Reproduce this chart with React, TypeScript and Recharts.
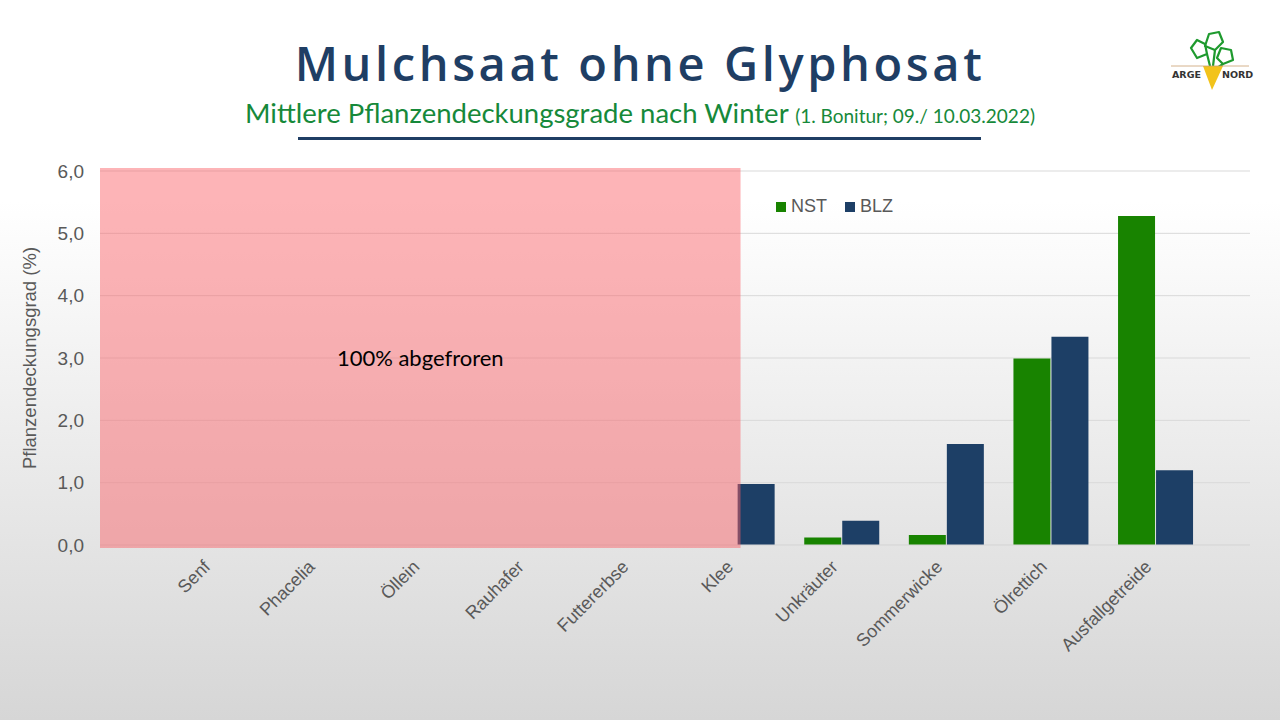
import React from 'react';
import { BarChart, Bar, XAxis, YAxis, CartesianGrid, Legend, ReferenceArea } from 'recharts';

// Kulturen (x-Achse)
const categories = [
  'Senf',
  'Phacelia',
  'Öllein',
  'Rauhafer',
  'Futtererbse',
  'Klee',
  'Unkräuter',
  'Sommerwicke',
  'Ölrettich',
  'Ausfallgetreide',
];

// mittlere Deckungsgrade (%) – erste fünf: 100% abgefroren
const nstValues = [null, null, null, null, null, 0, 0.12, 0.16, 2.99, 5.28];
const blzValues = [null, null, null, null, null, 0.98, 0.39, 1.62, 3.34, 1.2];

const seriesOrder = ['NST', 'BLZ'];
const yTicks = [0, 1, 2, 3, 4, 5, 6];

const data = categories.map((name, i) => ({ name, NST: nstValues[i], BLZ: blzValues[i] }));

const GREEN = '#188300';
const BLUE = '#1D3F66';
const GREY = '#595959';

const XTick = (props: any) => {
  const { x, y, payload } = props;
  return (
    <g transform={`translate(${x - 3},${y + 15})`}>
      <text
        textAnchor="end"
        transform="rotate(-45)"
        fill={GREY}
        fontSize={18}
        fontFamily="Liberation Sans, Arial, sans-serif"
      >
        {payload.value}
      </text>
    </g>
  );
};

const renderLegend = (props: any) => {
  const items = [...(props.payload || [])].sort(
    (a: any, b: any) => seriesOrder.indexOf(a.value) - seriesOrder.indexOf(b.value)
  );
  return (
    <div style={{ display: 'flex', fontFamily: 'Liberation Sans, Arial, sans-serif', fontSize: 18, color: GREY }}>
      {items.map((it: any) => (
        <div key={it.value} style={{ display: 'flex', alignItems: 'center', marginRight: 18 }}>
          <span style={{ width: 10, height: 10, background: it.color, display: 'inline-block', marginRight: 5 }} />
          <span>{it.value}</span>
        </div>
      ))}
    </div>
  );
};

const Logo = () => (
  <svg width={90} height={70} style={{ position: 'absolute', left: 1165, top: 26 }} viewBox="0 0 90 70">
    <g fill="none" stroke="#1E9A2E" strokeWidth={2.2} strokeLinejoin="round">
      <path d="M32 32 L26 22 L32 14 L40 18 L42 28 Z" />
      <path d="M40 20 L44 8 L54 6 L58 16 L50 24 Z" />
      <path d="M52 32 L56 22 L66 24 L68 34 L58 38 Z" />
      <path d="M42 28 L45 40 M50 24 L48 40 M58 38 L52 42" />
    </g>
    <path d="M38 40 L58 40 L47 64 Z" fill="#F2C31B" />
    <line x1={6} y1={40} x2={84} y2={40} stroke="#C9A070" strokeWidth={0.8} />
    <text x={7} y={52} fontSize={9.5} fontWeight="bold" fill="#333" fontFamily="DejaVu Sans, sans-serif">ARGE</text>
    <text x={57} y={52} fontSize={9.5} fontWeight="bold" fill="#333" fontFamily="DejaVu Sans, sans-serif">NORD</text>
  </svg>
);

const App: React.FC = () => {
  return (
    <div
      style={{
        position: 'relative',
        width: 1280,
        height: 720,
        overflow: 'hidden',
        background: 'linear-gradient(180deg, #ffffff 0%, #ffffff 28%, #d6d6d6 100%)',
      }}
    >
      <style>{'body{margin:0}'}</style>
      <div
        style={{
          position: 'absolute',
          top: 31,
          left: 0,
          width: 1280,
          textAlign: 'center',
          fontFamily: 'Open Sans, sans-serif',
          fontWeight: 600,
          fontSize: 47,
          letterSpacing: 3.6,
          color: '#1F3E64',
        }}
      >
        Mulchsaat ohne Glyphosat
      </div>
      <div
        style={{
          position: 'absolute',
          top: 96,
          left: 0,
          width: 1280,
          textAlign: 'center',
          fontFamily: 'Lato, sans-serif',
          fontSize: 27.5,
          color: '#16893A',
        }}
      >
        Mittlere Pflanzendeckungsgrade nach Winter <span style={{ fontSize: 19 }}>(1. Bonitur; 09./ 10.03.2022)</span>
      </div>
      <div style={{ position: 'absolute', top: 137, left: 298, width: 683, height: 3, background: '#1F3E64' }} />
      <Logo />

      <div style={{ position: 'absolute', top: 0, left: 0 }}>
        <BarChart
          width={1280}
          height={720}
          data={data}
          margin={{ top: 171, right: 30, left: 0, bottom: 0 }}
          barCategoryGap="14%"
          barGap={1}
        >
          <CartesianGrid vertical={false} stroke="#d9d9d9" />
          <XAxis
            dataKey="name"
            height={175}
            padding={{ left: 62, right: 42 }}
            tickLine={false}
            axisLine={{ stroke: '#d9d9d9' }}
            tick={<XTick />}
            interval={0}
          />
          <XAxis xAxisId="ann" dataKey="annPos" type="number" domain={[0, 100]} allowDataOverflow hide />
          <YAxis
            width={100}
            domain={[0, 6]}
            ticks={yTicks}
            tickFormatter={(v: number) => v.toFixed(1).replace('.', ',')}
            axisLine={false}
            tickLine={false}
            tickSize={0}
            tickMargin={16}
            tick={{ fill: GREY, fontSize: 19, fontFamily: 'Liberation Sans, Arial, sans-serif' }}
            label={{
              value: 'Pflanzendeckungsgrad (%)',
              angle: -90,
              position: 'insideLeft',
              dx: 24,
              dy: 0,
              style: { textAnchor: 'middle', fill: GREY, fontSize: 18.5, fontFamily: 'Liberation Sans, Arial, sans-serif' },
            }}
          />
          <Legend
            layout="horizontal"
            verticalAlign="middle"
            align="center"
            content={renderLegend}
            wrapperStyle={{ top: 196, left: 776, width: 'auto' }}
          />
          <Bar dataKey="NST" name="NST" fill={GREEN} isAnimationActive={false} />
          <Bar dataKey="BLZ" name="BLZ" fill={BLUE} isAnimationActive={false} />
          <ReferenceArea
            xAxisId="ann"
            x1={0}
            x2={55.7}
            y1={-0.05}
            y2={6.05}
            ifOverflow="visible"
            zIndex={1000}
            fill="#FA5F66"
            fillOpacity={0.47}
            stroke="none"
            label={{ value: '100% abgefroren', position: 'center', fill: '#000', fontSize: 22, fontFamily: 'Lato, sans-serif' }}
          />
        </BarChart>
      </div>
    </div>
  );
};

export default App;
